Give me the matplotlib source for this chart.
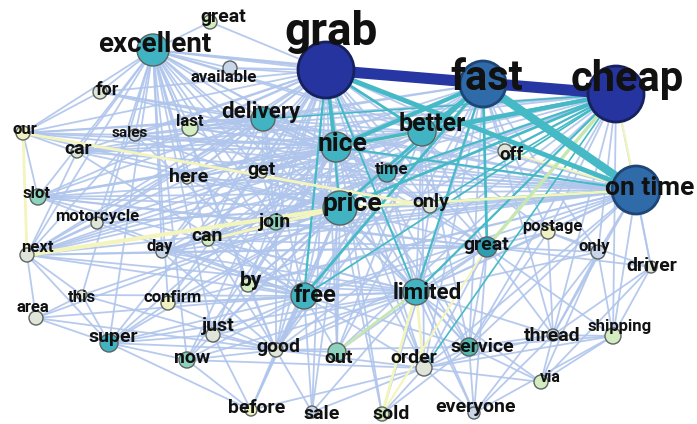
import matplotlib
matplotlib.use("Agg")
import matplotlib.pyplot as plt
from matplotlib.collections import LineCollection

plt.rcParams['font.family'] = ['Roboto', 'DejaVu Sans']

# words in the co-occurrence network (two words appear twice)
nodes = ['grab', 'fast', 'cheap', 'on time', 'excellent', 'great1', 'available', 'for', 'our',
         'sales', 'last', 'delivery', 'car', 'nice', 'better', 'off', 'time', 'here', 'get',
         'slot', 'price', 'only1', 'motorcycle', 'join', 'can', 'day', 'next', 'postage',
         'great2', 'only2', 'driver', 'by', 'free', 'limited', 'this', 'confirm', 'area',
         'just', 'super', 'good', 'out', 'order', 'service', 'thread', 'shipping', 'now',
         'via', 'before', 'sale', 'sold', 'everyone']
labels = {'great1': 'great', 'great2': 'great', 'only1': 'only', 'only2': 'only'}

# node weight (drives marker size), colour class and label size
node_weight = [28, 23, 28, 24, 16, 7, 7, 7, 7, 6, 8, 12, 6, 15, 14, 7, 9, 5, 5, 8, 17, 7, 6,
               8, 6, 6, 7, 7, 10, 7, 6, 7, 13, 13, 5, 7, 7, 7, 9, 7, 9, 8, 9, 6, 8, 8, 7, 6,
               6, 7, 6]
node_class = ['navy', 'steel', 'navy', 'steel', 'teal', 'palegreen', 'lightblue', 'grey', 'paleyellow',
              'lightblue', 'palegreen', 'teal', 'grey', 'teal', 'teal', 'grey', 'teal', 'grey', 'grey',
              'mint', 'teal', 'grey', 'grey', 'mint', 'palegreen', 'lightblue', 'grey', 'paleyellow',
              'darkteal', 'lightblue', 'grey', 'palegreen', 'teal', 'teal', 'grey', 'paleyellow', 'grey',
              'grey', 'teal', 'grey', 'mint', 'grey', 'teal2', 'lightblue', 'palegreen', 'mint',
              'palegreen', 'paleyellow', 'lightblue', 'palegreen', 'lightblue']
label_size = [33, 30, 30, 19, 20, 14, 12, 13, 12, 11, 12, 16, 14, 19, 18, 13.5, 12, 14, 14, 12,
              19, 14, 12, 14, 14, 12, 12, 12, 14, 12, 14, 15, 17, 16, 12, 12, 12, 14, 14, 14, 14,
              14, 14, 14, 12, 14, 11.5, 14, 14, 14, 14]

# strong co-occurrences: (a, b, strength class, width)
strong_edges = [
    ('grab', 'cheap', 'navy', 8.0), ('grab', 'fast', 'navy', 6.0), ('fast', 'cheap', 'navy', 4.5),
    ('grab', 'on time', 'teal', 3.5), ('fast', 'on time', 'teal', 6.0), ('grab', 'better', 'teal', 2.0),
    ('cheap', 'better', 'teal', 3.0), ('cheap', 'nice', 'teal', 2.5), ('cheap', 'price', 'teal', 2.0),
    ('fast', 'price', 'teal', 2.0), ('fast', 'nice', 'teal', 3.0), ('fast', 'free', 'teal', 2.0),
    ('fast', 'limited', 'teal', 1.6), ('grab', 'free', 'teal', 1.6), ('grab', 'limited', 'teal', 1.4),
    ('cheap', 'free', 'teal', 1.3), ('cheap', 'limited', 'teal', 1.6), ('on time', 'price', 'teal', 2.0),
    ('on time', 'nice', 'teal', 1.5), ('grab', 'nice', 'teal', 2.0), ('grab', 'price', 'teal', 1.6),
    ('fast', 'great2', 'teal', 2.0), ('cheap', 'great2', 'green', 2.5), ('order', 'cheap', 'teal', 1.2),
    ('cheap', 'delivery', 'teal', 1.2), ('cheap', 'time', 'teal', 1.5), ('cheap', 'off', 'teal', 1.5),
    ('cheap', 'only1', 'teal', 1.2), ('fast', 'time', 'teal', 1.5), ('fast', 'better', 'teal', 2.0),
    ('cheap', 'on time', 'yellow', 1.5), ('our', 'next', 'yellow', 2.0), ('next', 'price', 'yellow', 3.0),
    ('our', 'only1', 'yellow', 2.0), ('can', 'price', 'yellow', 2.0), ('nice', 'better', 'yellow', 2.0),
    ('price', 'on time', 'yellow', 2.0), ('limited', 'order', 'yellow', 2.0), ('limited', 'sold', 'yellow', 2.0),
    ('sold', 'great2', 'yellow', 1.5), ('out', 'limited', 'green', 2.0), ('grab', 'on time', 'navy', 1.2),
    ('off', 'on time', 'yellow', 1.5),
]

# weaker co-occurrences, listed per word
weak_edges = {
    'grab': ['excellent', 'great1', 'available', 'delivery', 'time', 'get', 'last', 'here', 'join',
             'only1', 'off', 'by', 'good', 'out', 'order', 'service', 'sales', 'car', 'for', 'our',
             'slot', 'next', 'can', 'day', 'confirm', 'just', 'super', 'now', 'sold', 'sale',
             'everyone', 'great2', 'postage', 'motorcycle'],
    'fast': ['excellent', 'delivery', 'off', 'only1', 'join', 'postage',
             'order', 'service', 'good', 'out', 'by', 'can', 'get', 'here', 'last', 'sold', 'thread',
             'only2'],
    'cheap': ['excellent', 'join', 'postage', 'only2', 'driver',
              'thread', 'shipping', 'service', 'out', 'good', 'get', 'here', 'car', 'slot', 'next',
              'our', 'sales', 'available', 'can', 'day', 'by'],
    'on time': ['excellent', 'our', 'for', 'car', 'slot', 'next', 'motorcycle', 'sales', 'last',
                'delivery', 'get', 'here', 'join', 'can', 'day', 'better', 'time', 'only1',
                'free', 'limited', 'great2', 'postage', 'only2', 'driver', 'thread', 'shipping',
                'service', 'order', 'by', 'confirm'],
    'excellent': ['for', 'our', 'sales', 'car', 'last', 'here', 'get', 'slot', 'motorcycle', 'day',
                  'can', 'join', 'next', 'confirm', 'this', 'just', 'super', 'good', 'nice', 'price',
                  'delivery', 'great1', 'available', 'free', 'limited', 'now', 'by', 'better', 'time'],
    'nice': ['our', 'car', 'slot', 'next', 'here', 'get', 'last', 'sales', 'for', 'day', 'can', 'join',
             'price', 'free', 'limited', 'good', 'out', 'order', 'service', 'great2', 'only1', 'time',
             'by', 'confirm', 'just', 'now', 'super', 'motorcycle', 'delivery'],
    'price': ['our', 'car', 'slot', 'motorcycle', 'here', 'get', 'last', 'sales', 'day', 'join',
              'free', 'limited', 'good', 'out', 'order', 'service', 'great2', 'only1', 'time', 'by',
              'confirm', 'just', 'now', 'super', 'this', 'area', 'sold', 'sale', 'before'],
    'better': ['get', 'here', 'last', 'delivery', 'join', 'can', 'free', 'limited', 'great2', 'only1',
               'time', 'off', 'out', 'order', 'good', 'service', 'car', 'slot', 'next'],
    'delivery': ['our', 'for', 'car', 'sales', 'last', 'here', 'get', 'slot', 'motorcycle', 'next',
                 'day', 'join', 'can', 'free', 'limited', 'only1', 'time', 'great2'],
    'free': ['next', 'slot', 'car', 'sales', 'day', 'can', 'by', 'this', 'confirm', 'just', 'super',
             'good', 'now', 'before', 'sale', 'out', 'limited', 'great2', 'order', 'service', 'area',
             'motorcycle'],
    'limited': ['next', 'slot', 'day', 'can', 'by', 'confirm', 'just', 'good', 'service', 'sale',
                'everyone', 'great2', 'postage', 'thread', 'only2', 'time', 'only1', 'via', 'now',
                'super'],
    'good': ['before', 'sale', 'now', 'just', 'super', 'confirm', 'area', 'this', 'by', 'join', 'can',
             'day', 'time', 'great2', 'service', 'order', 'out'],
    'great2': ['postage', 'only2', 'driver', 'thread', 'shipping', 'service', 'order', 'out',
               'everyone', 'join', 'can', 'next', 'slot', 'day'],
    'super': ['area', 'this', 'confirm', 'now', 'before', 'just', 'next'],
    'time': ['join', 'can', 'day', 'next', 'slot', 'only1', 'off'],
    'order': ['sold', 'sale', 'everyone', 'service', 'thread', 'shipping', 'via', 'before', 'now'],
    'service': ['everyone', 'thread', 'shipping', 'via', 'sold', 'postage'],
    'thread': ['shipping', 'via', 'everyone', 'driver', 'postage', 'only2'],
    'shipping': ['driver', 'via', 'everyone', 'only2'],
    'driver': ['via', 'postage'],
    'only2': ['everyone', 'via', 'postage'],
    'next': ['area', 'this', 'day', 'motorcycle', 'car', 'sales', 'here'],
    'our': ['for', 'car', 'sales', 'slot'],
    'area': ['this'],
    'before': ['now', 'just'],
    'join': ['can', 'here', 'get', 'day', 'slot'],
}

# layout: node centres and label anchors (pixel space of the figure)
pos = {
    'grab': (326, 70), 'fast': (483, 84), 'cheap': (616, 94), 'on time': (636, 190),
    'excellent': (153, 50), 'great1': (210, 22), 'available': (230, 68), 'for': (100, 92),
    'our': (23, 133), 'sales': (135, 135), 'last': (190, 128), 'delivery': (263, 119),
    'car': (77, 152), 'nice': (336, 147), 'better': (422, 132), 'off': (505, 151),
    'time': (387, 173), 'here': (187, 179), 'get': (262, 173), 'slot': (38, 197),
    'price': (340, 208), 'only1': (430, 206), 'motorcycle': (97, 223), 'join': (276, 222),
    'can': (208, 240), 'day': (162, 252), 'next': (27, 255), 'postage': (548, 232),
    'great2': (487, 247), 'only2': (598, 252), 'driver': (651, 267), 'by': (248, 285),
    'free': (304, 296), 'limited': (416, 292), 'this': (82, 295), 'confirm': (168, 303),
    'area': (36, 318), 'just': (213, 335), 'super': (109, 343), 'good': (276, 350),
    'out': (337, 352), 'order': (424, 368), 'service': (469, 347), 'thread': (553, 335),
    'shipping': (613, 336), 'now': (187, 360), 'via': (541, 382), 'before': (251, 410),
    'sale': (312, 412), 'sold': (382, 414), 'everyone': (474, 413),
}
label_pos = {
    'grab': (331, 32), 'fast': (487, 79), 'cheap': (627, 79), 'on time': (650, 188),
    'excellent': (155, 45), 'great1': (223, 17), 'available': (224, 77), 'for': (107, 90),
    'our': (25, 130), 'sales': (130, 133), 'last': (190, 121), 'delivery': (261, 112),
    'car': (78, 149), 'nice': (343, 144), 'better': (432, 124), 'off': (511, 155),
    'time': (392, 169), 'here': (189, 177), 'get': (262, 170), 'slot': (37, 193),
    'price': (352, 204), 'only1': (431, 202), 'motorcycle': (97, 217), 'join': (275, 222),
    'can': (207, 236), 'day': (160, 247), 'next': (37, 247), 'postage': (552, 227),
    'great2': (486, 245), 'only2': (594, 247), 'driver': (652, 266), 'by': (251, 281),
    'free': (315, 296), 'limited': (427, 293), 'this': (82, 298), 'confirm': (173, 297),
    'area': (33, 307), 'just': (218, 326), 'super': (113, 337), 'good': (278, 347),
    'out': (339, 358), 'order': (414, 358), 'service': (482, 347), 'thread': (552, 336),
    'shipping': (620, 327), 'now': (192, 358), 'via': (550, 377), 'before': (257, 408),
    'sale': (322, 414), 'sold': (391, 414), 'everyone': (475, 407),
}

fill = {'navy': '#2634a0', 'steel': '#2f6aa9', 'teal': '#41b3c3', 'teal2': '#52b8b0',
        'darkteal': '#2e9fb2', 'mint': '#8dd2bd', 'palegreen': '#d3edc1', 'paleyellow': '#eff1c2',
        'grey': '#dfe5d8', 'lightblue': '#c9d5e8'}
outline = {'navy': '#17215e', 'steel': '#1d4677'}
edge_col = {'navy': '#2636a3', 'teal': '#45bac6', 'yellow': '#f3f5bc', 'green': '#c6e7b2'}

fig = plt.figure(figsize=(6.97, 4.24), dpi=100)
ax = fig.add_axes([0, 0, 1, 1])
ax.set_xlim(0, 697)
ax.set_ylim(424, 0)
ax.axis('off')

seen = set()
thin = []
for a, nbrs in weak_edges.items():
    for b in nbrs:
        key = frozenset((a, b))
        if key in seen or a == b:
            continue
        seen.add(key)
        thin.append([pos[a], pos[b]])
ax.add_collection(LineCollection(thin, colors='#afc5ec', linewidths=1.3, alpha=0.9, zorder=1))

for a, b, kind, w in sorted(strong_edges, key=lambda e: e[3]):
    ax.add_collection(LineCollection([[pos[a], pos[b]]], colors=edge_col[kind],
                                     linewidths=w, zorder=2))

xs = [pos[n][0] for n in nodes]
ys = [pos[n][1] for n in nodes]
sizes = [(2 * r * 0.72) ** 2 for r in node_weight]
colors = [fill[c] for c in node_class]
edges = [outline.get(c, '#5b6460') for c in node_class]
lws = [2.0 if c in outline else 1.0 for c in node_class]
ax.scatter(xs, ys, s=sizes, c=colors, edgecolors=edges, linewidths=lws, zorder=3)

for n, fs in zip(nodes, label_size):
    lx, ly = label_pos[n]
    ax.text(lx, ly, labels.get(n, n), fontsize=fs, fontweight='bold', color='#111111',
            ha='center', va='center', zorder=4)

fig.savefig('out.png', dpi=100)
